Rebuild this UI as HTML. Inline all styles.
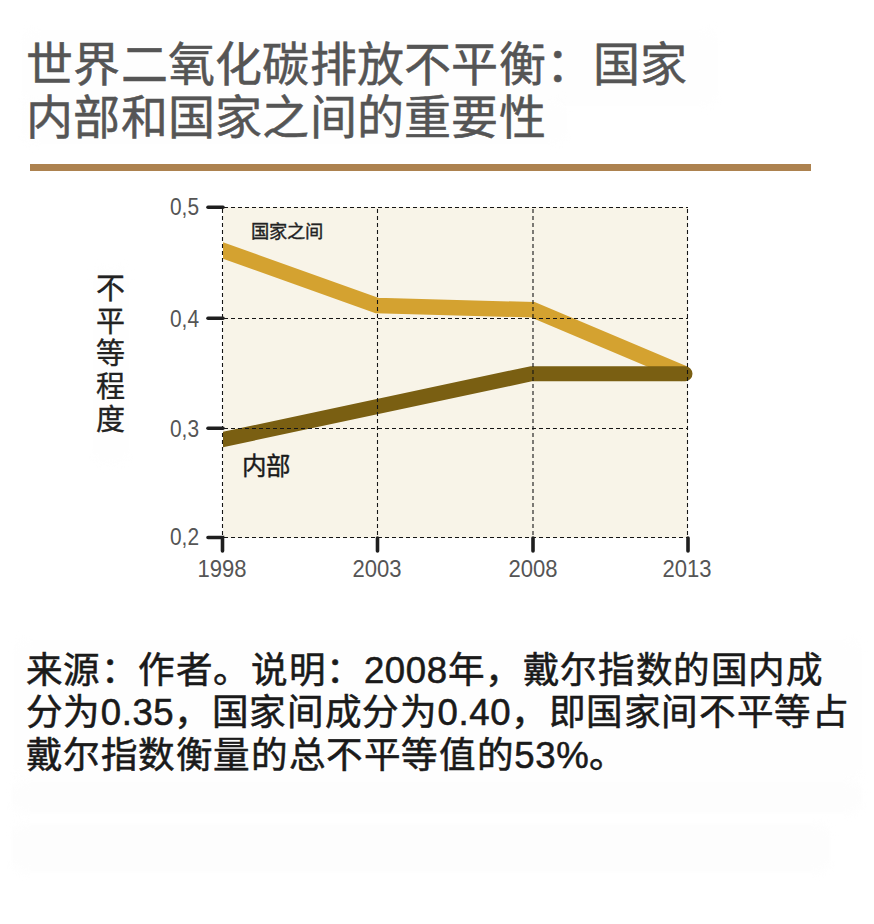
<!DOCTYPE html>
<html lang="zh-CN">
<head>
<meta charset="utf-8">
<style>
html,body{margin:0;padding:0;background:#fff;}
body{width:874px;height:924px;position:relative;overflow:hidden;font-family:"Liberation Sans",sans-serif;}
.t{position:absolute;white-space:nowrap;}
#title{left:26px;top:38px;font-size:47px;line-height:53px;color:#555;-webkit-text-stroke:0.5px #555;letter-spacing:0.25px;}
#rule{position:absolute;left:30px;top:163.8px;width:781px;height:6.8px;background:#ad824f;}
#ylab{left:94px;top:273px;font-size:29px;line-height:32.7px;color:#222;width:32px;white-space:normal;text-align:center;-webkit-text-stroke:0.35px #222;}
#body{left:25.5px;top:649.5px;font-size:36.6px;line-height:42.5px;color:#1a1a1a;-webkit-text-stroke:0.55px #1a1a1a;letter-spacing:0.6px;}
svg{position:absolute;left:0;top:0;}
.ghost{position:absolute;background:#fdfdfd;border-radius:10px;filter:blur(4px);}
</style>
</head>
<body>
<div class="ghost" style="left:22px;top:30px;width:696px;height:76px;background:#fefefe;"></div>
<div class="ghost" style="left:22px;top:100px;width:545px;height:44px;background:#fefefe;"></div>
<div class="ghost" style="left:14px;top:640px;width:848px;height:140px;background:#fefefe;"></div>
<div class="ghost" style="left:12px;top:781px;width:850px;height:32px;"></div>
<div class="ghost" style="left:12px;top:824px;width:818px;height:48px;"></div>
<div class="ghost" style="left:93px;top:268px;width:36px;height:196px;background:#fefefe;"></div>
<div id="title" class="t">世界二氧化碳排放不平衡：国家<br>内部和国家之间的重要性</div>
<div id="rule"></div>
<div id="ylab" class="t">不<br>平<br>等<br>程<br>度</div>
<svg width="874" height="924" viewBox="0 0 874 924">
  <defs>
    <clipPath id="pc"><rect x="223" y="150" width="500" height="400"/></clipPath>
  </defs>
  <rect x="223" y="207" width="465" height="331" fill="#f8f4e8"/>
  <g clip-path="url(#pc)" fill="none" stroke-linejoin="miter">
    <polyline points="210,245.9 377,305.5 533,309.8 685,374" stroke="#d4a230" stroke-width="15.5"/>
    <polyline points="210,442.3 531.5,373.7 685,373.7" stroke="#7a5f12" stroke-width="15" stroke-linecap="round"/>
  </g>
  <g stroke="#151515" stroke-width="1.1" stroke-dasharray="4 3" fill="none">
    <line x1="224" y1="207.5" x2="688" y2="207.5"/>
    <line x1="224" y1="318.5" x2="688" y2="318.5"/>
    <line x1="224" y1="428.5" x2="688" y2="428.5"/>
    <line x1="224" y1="537.5" x2="688" y2="537.5"/>
    <line x1="222.5" y1="209" x2="222.5" y2="538"/>
    <line x1="377.5" y1="209" x2="377.5" y2="538"/>
    <line x1="533" y1="209" x2="533" y2="538"/>
    <line x1="687.5" y1="209" x2="687.5" y2="538"/>
  </g>
  <g stroke="#1e1e1e" stroke-width="3.6" stroke-linecap="round" fill="none">
    <line x1="208" y1="207.3" x2="223" y2="207.3"/>
    <line x1="208" y1="318.3" x2="223" y2="318.3"/>
    <line x1="208" y1="428.3" x2="223" y2="428.3"/>
    <polyline points="208,537.5 222.5,537.5 222.5,551"/>
    <line x1="377.5" y1="538" x2="377.5" y2="551"/>
    <line x1="533" y1="538" x2="533" y2="551"/>
    <line x1="688" y1="538" x2="688" y2="551"/>
  </g>
  <g font-family="Liberation Sans, sans-serif" fill="#555" font-size="24">
    <text transform="translate(199,545) scale(0.87,1)" text-anchor="end">0,2</text>
    <text transform="translate(199,436.7) scale(0.87,1)" text-anchor="end">0,3</text>
    <text transform="translate(199,326.7) scale(0.87,1)" text-anchor="end">0,4</text>
    <text transform="translate(199,215) scale(0.87,1)" text-anchor="end">0,5</text>
    <text transform="translate(222,577) scale(0.92,1)" text-anchor="middle">1998</text>
    <text transform="translate(377,577) scale(0.92,1)" text-anchor="middle">2003</text>
    <text transform="translate(533,577) scale(0.92,1)" text-anchor="middle">2008</text>
    <text transform="translate(687,577) scale(0.92,1)" text-anchor="middle">2013</text>
  </g>
  <text x="251" y="237.6" font-family="Liberation Sans, sans-serif" font-size="18.3" fill="#222" stroke="#222" stroke-width="0.35">国家之间</text>
  <text x="241.5" y="474.5" font-family="Liberation Sans, sans-serif" font-size="24.5" fill="#1a1a1a" stroke="#1a1a1a" stroke-width="0.4">内部</text>
</svg>
<div id="body" class="t">来源：作者。说明：2008年，戴尔指数的国内成<br>分为0.35，国家间成分为0.40，即国家间不平等占<br>戴尔指数衡量的总不平等值的53%。</div>
</body>
</html>
